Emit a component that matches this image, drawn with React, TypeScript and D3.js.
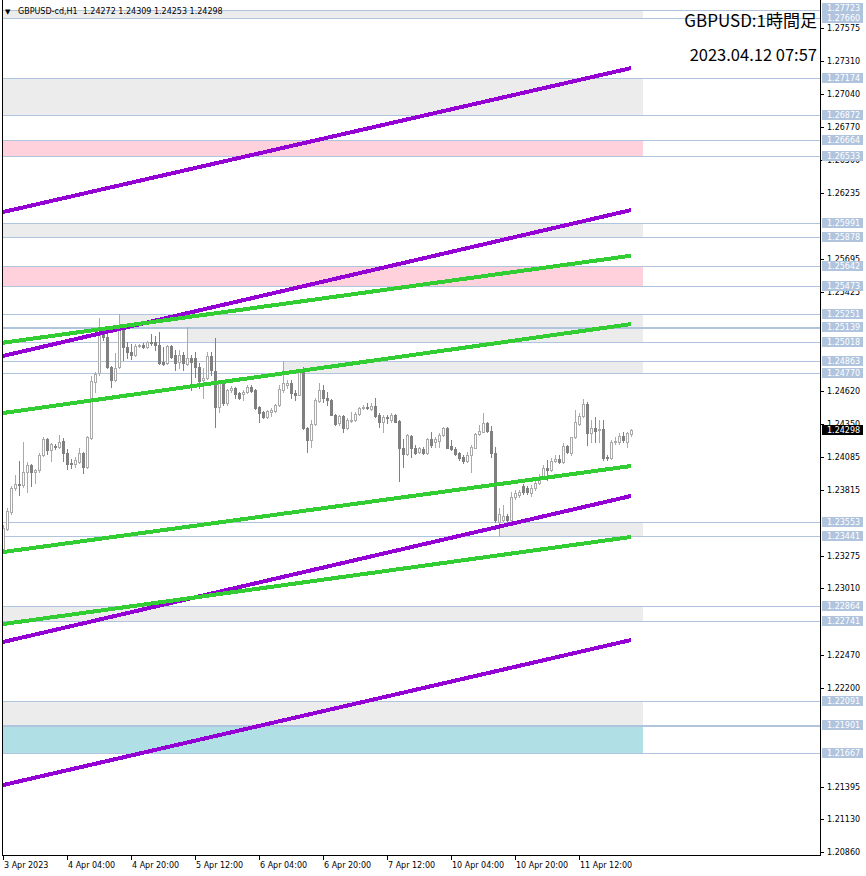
import React from 'react';
import * as d3 from 'd3';

const WIDTH = 866;
const HEIGHT = 876;

const SYMBOL_HEADER = 'GBPUSD-cd,H1  1.24272 1.24309 1.24253 1.24298';
const TITLE = 'GBPUSD:1時間足';
const SUBTITLE = '2023.04.12 07:57';

const opens = [
  1.23331, 1.23494, 1.23633, 1.23828, 1.23861, 1.23853, 1.23959, 1.24016, 1.23959, 1.23975,
  1.24097, 1.24228, 1.24138, 1.24171, 1.24162, 1.24211, 1.24114, 1.24032, 1.24024, 1.24040,
  1.24114, 1.23999, 1.24236, 1.24692, 1.24766, 1.25092, 1.25059, 1.24814, 1.24709, 1.24814,
  1.25116, 1.24977, 1.24937, 1.24912, 1.24986, 1.24994, 1.24977, 1.25018, 1.25018, 1.24994,
  1.24855, 1.24847, 1.24986, 1.24912, 1.24855, 1.24912, 1.24839, 1.24888, 1.24888, 1.24814,
  1.24709, 1.24725, 1.24904, 1.24782, 1.24488, 1.24684, 1.24521, 1.24627, 1.24643, 1.24603,
  1.24594, 1.24611, 1.24651, 1.24627, 1.24488, 1.24448, 1.24407, 1.24448, 1.24456, 1.24505,
  1.24627, 1.24668, 1.24684, 1.24603, 1.24586, 1.24774, 1.24317, 1.24220, 1.24350, 1.24537,
  1.24627, 1.24562, 1.24546, 1.24423, 1.24358, 1.24415, 1.24317, 1.24374, 1.24383, 1.24431,
  1.24480, 1.24488, 1.24472, 1.24497, 1.24423, 1.24366, 1.24407, 1.24383, 1.24423, 1.24374,
  1.24154, 1.24105, 1.24252, 1.24154, 1.24122, 1.24146, 1.24114, 1.24228, 1.24203, 1.24211,
  1.24260, 1.24317, 1.24171, 1.24146, 1.24114, 1.24081, 1.24048, 1.24097, 1.24154, 1.24268,
  1.24285, 1.24358, 1.24293, 1.24114, 1.23551, 1.23568, 1.23600, 1.23568, 1.23755, 1.23771,
  1.23845, 1.23828, 1.23788, 1.23828, 1.23869, 1.23918, 1.23991, 1.23975, 1.24048, 1.24065,
  1.24040, 1.24171, 1.24114, 1.24244, 1.24350, 1.24415, 1.24513, 1.24277, 1.24317, 1.24301,
  1.24309, 1.24081, 1.24073, 1.24203, 1.24203, 1.24252, 1.24203, 1.24272,
];

const highs = [
  1.23527, 1.23665, 1.23845, 1.23934, 1.24048, 1.24203, 1.24040, 1.24024, 1.23983, 1.24114,
  1.24244, 1.24236, 1.24195, 1.24187, 1.24260, 1.24236, 1.24146, 1.24065, 1.24081, 1.24154,
  1.24122, 1.24252, 1.24741, 1.24774, 1.25214, 1.25116, 1.25100, 1.24823, 1.24929, 1.25251,
  1.25132, 1.25018, 1.25002, 1.25002, 1.25002, 1.25010, 1.25026, 1.25083, 1.25067, 1.25100,
  1.24977, 1.24994, 1.24994, 1.24953, 1.24953, 1.24937, 1.25139, 1.24912, 1.24937, 1.24847,
  1.24806, 1.24937, 1.24937, 1.25051, 1.24692, 1.24692, 1.24635, 1.24660, 1.24651, 1.24611,
  1.24627, 1.24668, 1.24668, 1.24635, 1.24497, 1.24456, 1.24464, 1.24480, 1.24513, 1.24668,
  1.24863, 1.24709, 1.24709, 1.24627, 1.24790, 1.24814, 1.24325, 1.24383, 1.24562, 1.24684,
  1.24668, 1.24611, 1.24554, 1.24431, 1.24423, 1.24423, 1.24399, 1.24448, 1.24448, 1.24488,
  1.24505, 1.24521, 1.24521, 1.24562, 1.24440, 1.24423, 1.24423, 1.24440, 1.24431, 1.24383,
  1.24228, 1.24268, 1.24260, 1.24179, 1.24162, 1.24162, 1.24236, 1.24285, 1.24244, 1.24277,
  1.24325, 1.24325, 1.24220, 1.24162, 1.24122, 1.24097, 1.24122, 1.24179, 1.24277, 1.24342,
  1.24440, 1.24366, 1.24334, 1.24162, 1.23665, 1.23690, 1.23616, 1.23796, 1.23812, 1.23812,
  1.23861, 1.23845, 1.23853, 1.23894, 1.23942, 1.24016, 1.24057, 1.24073, 1.24097, 1.24097,
  1.24195, 1.24179, 1.24244, 1.24464, 1.24440, 1.24554, 1.24529, 1.24383, 1.24407, 1.24383,
  1.24383, 1.24097, 1.24220, 1.24244, 1.24277, 1.24285, 1.24285, 1.24309,
];

const lows = [
  1.23306, 1.23486, 1.23616, 1.23812, 1.23771, 1.23836, 1.23796, 1.23845, 1.23869, 1.23959,
  1.24089, 1.24105, 1.24048, 1.24146, 1.24154, 1.24048, 1.23983, 1.23991, 1.23999, 1.24032,
  1.23951, 1.23991, 1.24228, 1.24611, 1.24749, 1.25035, 1.24806, 1.24651, 1.24700, 1.24806,
  1.24872, 1.24888, 1.24880, 1.24904, 1.24977, 1.24969, 1.24969, 1.24994, 1.24953, 1.24839,
  1.24831, 1.24839, 1.24888, 1.24790, 1.24806, 1.24790, 1.24831, 1.24627, 1.24733, 1.24643,
  1.24562, 1.24717, 1.24749, 1.24325, 1.24448, 1.24505, 1.24505, 1.24611, 1.24562, 1.24554,
  1.24546, 1.24603, 1.24611, 1.24472, 1.24366, 1.24399, 1.24399, 1.24415, 1.24448, 1.24497,
  1.24611, 1.24643, 1.24562, 1.24546, 1.24586, 1.24309, 1.24122, 1.24162, 1.24342, 1.24529,
  1.24529, 1.24505, 1.24423, 1.24342, 1.24342, 1.24285, 1.24309, 1.24366, 1.24374, 1.24423,
  1.24472, 1.24472, 1.24464, 1.24407, 1.24325, 1.24285, 1.24358, 1.24366, 1.24366, 1.23885,
  1.23999, 1.24097, 1.24081, 1.24105, 1.24114, 1.24105, 1.24105, 1.24162, 1.24162, 1.24162,
  1.24252, 1.24154, 1.24138, 1.24097, 1.24057, 1.24032, 1.24040, 1.23959, 1.24154, 1.24260,
  1.24285, 1.24285, 1.24081, 1.23551, 1.23441, 1.23559, 1.23551, 1.23551, 1.23739, 1.23755,
  1.23779, 1.23779, 1.23763, 1.23812, 1.23861, 1.23910, 1.23894, 1.23967, 1.24040, 1.24032,
  1.24032, 1.24114, 1.24097, 1.24236, 1.24342, 1.24407, 1.24179, 1.24203, 1.24203, 1.24203,
  1.24057, 1.24057, 1.24065, 1.24187, 1.24187, 1.24203, 1.24162, 1.24253,
];

const closes = [
  1.23502, 1.23641, 1.23828, 1.23861, 1.23853, 1.23959, 1.24016, 1.23959, 1.23975, 1.24097,
  1.24228, 1.24138, 1.24187, 1.24162, 1.24203, 1.24114, 1.24024, 1.24024, 1.24057, 1.24114,
  1.23999, 1.24244, 1.24700, 1.24757, 1.25100, 1.25059, 1.24814, 1.24709, 1.24806, 1.25132,
  1.24977, 1.24937, 1.24912, 1.24986, 1.24994, 1.24977, 1.25018, 1.25010, 1.24994, 1.24847,
  1.24839, 1.24986, 1.24896, 1.24847, 1.24912, 1.24847, 1.24888, 1.24855, 1.24814, 1.24700,
  1.24725, 1.24904, 1.24790, 1.24488, 1.24684, 1.24521, 1.24627, 1.24643, 1.24594, 1.24562,
  1.24611, 1.24651, 1.24619, 1.24480, 1.24440, 1.24407, 1.24456, 1.24464, 1.24505, 1.24635,
  1.24684, 1.24684, 1.24603, 1.24586, 1.24774, 1.24317, 1.24220, 1.24350, 1.24546, 1.24627,
  1.24562, 1.24546, 1.24423, 1.24350, 1.24415, 1.24317, 1.24383, 1.24383, 1.24431, 1.24480,
  1.24488, 1.24480, 1.24497, 1.24415, 1.24366, 1.24407, 1.24399, 1.24423, 1.24366, 1.24154,
  1.24105, 1.24260, 1.24154, 1.24114, 1.24154, 1.24114, 1.24228, 1.24179, 1.24228, 1.24260,
  1.24317, 1.24154, 1.24146, 1.24105, 1.24073, 1.24048, 1.24097, 1.24162, 1.24268, 1.24293,
  1.24358, 1.24293, 1.24114, 1.23568, 1.23616, 1.23600, 1.23568, 1.23755, 1.23788, 1.23796,
  1.23796, 1.23796, 1.23828, 1.23869, 1.23918, 1.23991, 1.23975, 1.24048, 1.24065, 1.24040,
  1.24171, 1.24122, 1.24244, 1.24366, 1.24415, 1.24513, 1.24277, 1.24317, 1.24293, 1.24309,
  1.24073, 1.24073, 1.24203, 1.24211, 1.24252, 1.24220, 1.24277, 1.24298,
];

const CURRENT_PRICE = 1.24298;

// time axis labels (bar index of each label)
const timeLabelBars = [0, 16, 32, 48, 64, 80, 96, 112, 128, 144];
const timeLabels = [
  '3 Apr 2023', '4 Apr 04:00', '4 Apr 20:00', '5 Apr 12:00', '6 Apr 04:00',
  '6 Apr 20:00', '7 Apr 12:00', '10 Apr 04:00', '10 Apr 20:00', '11 Apr 12:00',
];

// price axis ticks
const priceTicks = [
  1.27575, 1.27310, 1.27040, 1.26770, 1.26500, 1.26235, 1.25965, 1.25695, 1.25425, 1.25155,
  1.24885, 1.24620, 1.24350, 1.24085, 1.23815, 1.23545, 1.23275, 1.23010, 1.22740, 1.22470,
  1.22200, 1.21930, 1.21665, 1.21395, 1.21130, 1.20860,
];

// zones: start bar (-1 = from left edge), upper price, lower price, kind
const zoneStartBars = [-1, -1, -1, -1, -1, 29, 46, 70, 124, -1, -1, -1];
const zoneTops = [1.27723, 1.27174, 1.26664, 1.25991, 1.25642, 1.25251, 1.25139, 1.24863, 1.23553, 1.22864, 1.22091, 1.21901];
const zoneBottoms = [1.27660, 1.26872, 1.26533, 1.25878, 1.25473, 1.25139, 1.25018, 1.24770, 1.23441, 1.22741, 1.21901, 1.21667];
const zoneKinds = ['gray', 'gray', 'pink', 'gray', 'pink', 'gray', 'gray', 'gray', 'gray', 'gray', 'gray', 'blue'];
const ZONE_END_BAR = 160;

// trend lines: start bar, start price, end bar, end price, colour
const trendStartBars = [0, 0, 0, 0, 0, 0, 0, 0];
const trendEndBars = [157, 157, 157, 157, 157, 157, 157, 157];
const trendStartPrices = [1.26078, 1.24905, 1.22574, 1.21408, 1.25013, 1.24440, 1.23307, 1.22720];
const trendEndPrices = [1.27251, 1.26094, 1.23764, 1.22590, 1.25722, 1.25165, 1.24008, 1.23430];
const trendKinds = ['purple', 'purple', 'purple', 'purple', 'green', 'green', 'green', 'green'];

const COLORS: Record<string, string> = {
  gray: '#ECECEC',
  pink: '#FFD1DC',
  blue: '#B0E0E6',
  purple: '#9400D3',
  green: '#32CD32',
  level: '#B0C4DE',
  bull: '#AAAAAA',
  bear: '#808080',
};

const FONT = '"DejaVu Sans", sans-serif';

export default function App() {
  const left = 2;
  const right = 820;
  const top = 0;
  const bottom = 855;

  const x = d3.scaleLinear().domain([-0.25, 204.25]).range([left, right]);
  const y = d3.scaleLinear().domain([1.20838, 1.27806]).range([bottom, top]);

  // levels from zone borders; shared borders drawn thicker
  const levelCounts = new Map<string, number>();
  zoneTops.concat(zoneBottoms).forEach((p) => {
    const k = p.toFixed(5);
    levelCounts.set(k, (levelCounts.get(k) || 0) + 1);
  });
  const levels = Array.from(levelCounts.entries())
    .map(([k, c]) => ({ price: +k, count: c }))
    .sort((a, b) => b.price - a.price);

  // label positions with simple collision resolution (bottom-up)
  const labelH = 10;
  const labelYs: number[] = levels.map((l) => y(l.price));
  for (let i = labelYs.length - 2; i >= 0; i--) {
    if (labelYs[i] > labelYs[i + 1] - (labelH - 0.5)) {
      labelYs[i] = labelYs[i + 1] - (labelH - 0.5);
    }
  }

  // tick labels that are fully hidden behind a level label are not drawn
  const visibleTicks = priceTicks.filter((p) => {
    const yy = y(p);
    return !labelYs.some((ly) => Math.abs(ly - yy) < 4);
  });

  const candles = opens.map((o, i) => {
    const cx = Math.round(x(i));
    const yo = Math.round(y(o));
    const yc = Math.round(y(closes[i]));
    const yh = Math.round(y(highs[i]));
    const yl = Math.round(y(lows[i]));
    const bull = closes[i] >= o;
    return { i, cx, yo, yc, yh, yl, bull };
  });

  return (
    <svg
      width={WIDTH}
      height={HEIGHT}
      style={{ position: 'absolute', left: 0, top: 0, background: '#fff' }}
      fontFamily={FONT}
    >
      <defs>
        <clipPath id="plot">
          <rect x={left} y={top} width={right - left} height={bottom - top} />
        </clipPath>
      </defs>
      <rect x={0} y={0} width={WIDTH} height={HEIGHT} fill="#fff" />

      <g clipPath="url(#plot)">
        {/* zones */}
        <g shapeRendering="crispEdges">
          {zoneTops.map((t, i) => {
            const x0 = zoneStartBars[i] < 0 ? left : Math.round(x(zoneStartBars[i]));
            const x1 = Math.round(x(ZONE_END_BAR));
            const y0 = Math.round(y(t));
            const y1 = Math.round(y(zoneBottoms[i]));
            return (
              <rect key={'z' + i} x={x0} y={y0} width={x1 - x0} height={y1 - y0} fill={COLORS[zoneKinds[i]]} />
            );
          })}
        </g>
        {/* horizontal levels */}
        <g shapeRendering="crispEdges">
          {levels.map((l, i) => {
            const yy = Math.round(y(l.price));
            return (
              <rect key={'l' + i} x={left} y={yy} width={right - left} height={l.count > 1 ? 2 : 1} fill={COLORS.level} />
            );
          })}
        </g>
        {/* candles */}
        <g shapeRendering="crispEdges">
          {candles.map((c) => {
            const col = c.bull ? COLORS.bull : COLORS.bear;
            const bTop = Math.min(c.yo, c.yc);
            const bBot = Math.max(c.yo, c.yc);
            const bh = bBot - bTop + 1;
            return (
              <g key={'c' + c.i}>
                <rect x={c.cx} y={c.yh} width={1} height={Math.max(1, c.yl - c.yh + 1)} fill={col} />
                <rect x={c.cx - 1} y={bTop} width={3} height={bh} fill={col} />
                {c.bull && bh > 2 ? (
                  <rect x={c.cx} y={bTop + 1} width={1} height={bh - 2} fill="#fff" />
                ) : null}
              </g>
            );
          })}
        </g>
        {/* trend lines */}
        <g shapeRendering="crispEdges">
          {trendStartBars.map((sb, i) => (
            <line
              key={'t' + i}
              x1={x(sb)}
              y1={y(trendStartPrices[i])}
              x2={x(trendEndBars[i])}
              y2={y(trendEndPrices[i])}
              stroke={COLORS[trendKinds[i]]}
              strokeWidth={4}
            />
          ))}
        </g>
      </g>

      {/* frame */}
      <g shapeRendering="crispEdges">
        <rect x={left} y={top} width={1} height={bottom - top + 1} fill="#000" />
        <rect x={left} y={bottom} width={right - left + 1} height={1} fill="#000" />
        <rect x={right} y={top} width={1} height={bottom - top + 1} fill="#000" />
      </g>

      {/* price axis ticks */}
      <g fontSize={8} fill="#000">
        {visibleTicks.map((p, i) => {
          const yy = Math.round(y(p));
          return (
            <g key={'pt' + i}>
              <rect x={right + 1} y={yy} width={3} height={1} fill="#000" shapeRendering="crispEdges" />
              <text x={right + 7} y={yy + 3}>{p.toFixed(5)}</text>
            </g>
          );
        })}
      </g>

      {/* level labels */}
      <g fontSize={8}>
        {levels.map((l, i) => {
          const yy = labelYs[i];
          return (
            <g key={'ll' + i}>
              <rect x={right + 2} y={Math.round(yy - labelH / 2)} width={41} height={labelH} fill={COLORS.level} shapeRendering="crispEdges" />
              <text x={right + 7} y={Math.round(yy - labelH / 2) + 8} fill="#fff">{l.price.toFixed(5)}</text>
            </g>
          );
        })}
        <rect x={right + 2} y={Math.round(y(CURRENT_PRICE) - labelH / 2)} width={41} height={labelH} fill="#000" shapeRendering="crispEdges" />
        <text x={right + 7} y={Math.round(y(CURRENT_PRICE) - labelH / 2) + 8} fill="#fff">{CURRENT_PRICE.toFixed(5)}</text>
      </g>

      {/* time axis */}
      <g fontSize={8} fill="#000">
        {timeLabelBars.map((b, i) => {
          const xx = Math.round(x(b));
          return (
            <g key={'tl' + i}>
              <rect x={xx} y={bottom + 1} width={1} height={4} fill="#000" shapeRendering="crispEdges" />
              <text x={xx + 1} y={bottom + 13}>{timeLabels[i]}</text>
            </g>
          );
        })}
      </g>

      {/* header */}
      <text x={5} y={14} fontSize={7} fill="#000">▼</text>
      <text x={18} y={14} fontSize={8} fill="#000" style={{ whiteSpace: 'pre' }}>{SYMBOL_HEADER}</text>

      {/* title */}
      <text x={817} y={27} fontSize={17} textAnchor="end" fill="#000" fontFamily='"Noto Sans CJK JP", sans-serif'>{TITLE}</text>
      <text x={817} y={61} fontSize={16.5} textAnchor="end" fill="#000" fontFamily='"Noto Sans CJK JP", sans-serif'>{SUBTITLE}</text>
    </svg>
  );
}
